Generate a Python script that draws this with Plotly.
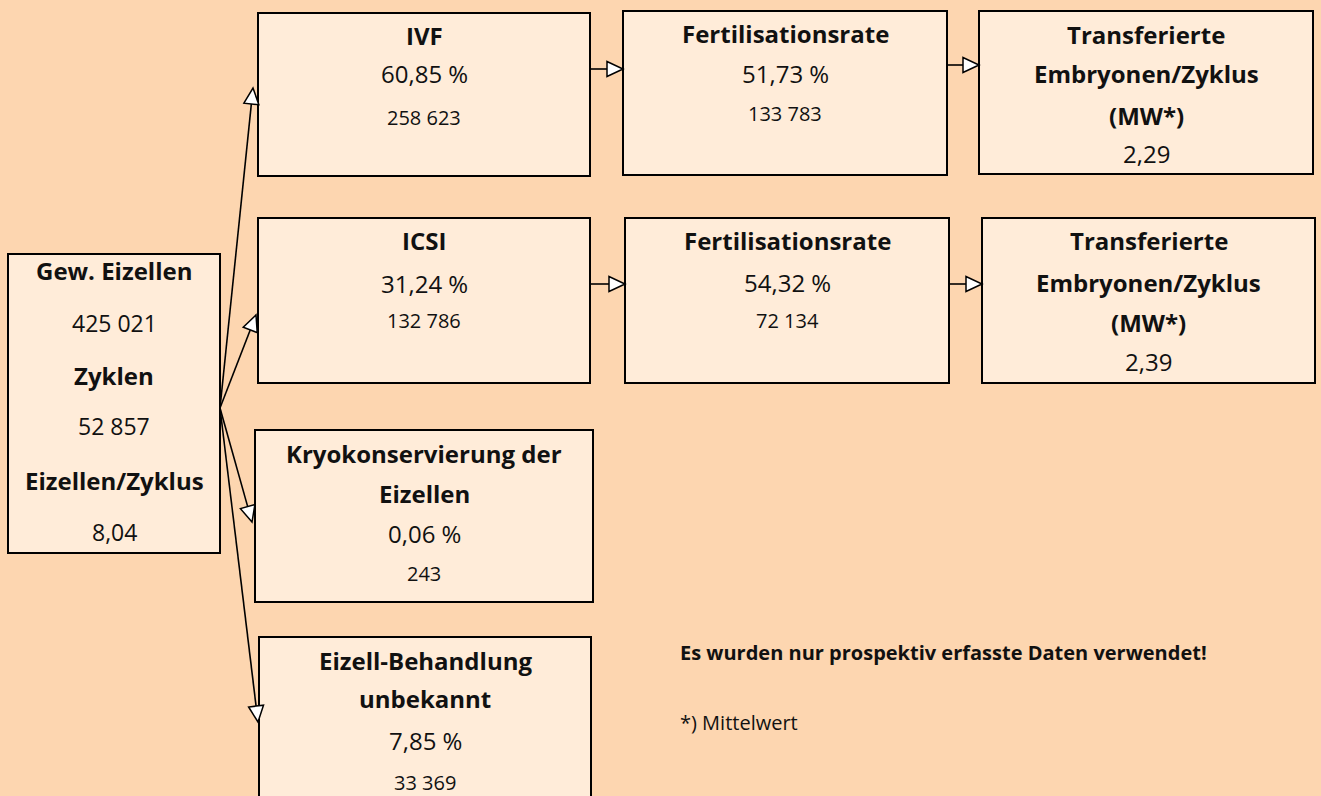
import plotly.graph_objects as go

# ---------------- data ----------------
start_labels = ["Gew. Eizellen", "Zyklen", "Eizellen/Zyklus"]
start_values = ["425 021", "52 857", "8,04"]

branch_titles = ["IVF", "ICSI", "Kryokonservierung der<br>Eizellen", "Eizell-Behandlung<br>unbekannt"]
branch_percent = ["60,85 %", "31,24 %", "0,06 %", "7,85 %"]
branch_counts = ["258 623", "132 786", "243", "33 369"]

fert_title = "Fertilisationsrate"
fert_percent = ["51,73 %", "54,32 %"]
fert_counts = ["133 783", "72 134"]

transfer_title = ["Transferierte", "Embryonen/Zyklus", "(MW*)"]
transfer_values = ["2,29", "2,39"]

note_bold = "Es wurden nur prospektiv erfasste Daten verwendet!"
note_plain = "*) Mittelwert"

# ---------------- layout / style ----------------
W, H = 1321, 796
BG = "#FDD6B0"
BOX = "#FFECD9"
TXT = "#111111"
FONT = "Open Sans"

fig = go.Figure()
shapes = []
annos = []


def box(x0, y0, x1, y1):
    shapes.append(dict(type="rect", x0=x0, y0=y0, x1=x1, y1=y1,
                       xref="x", yref="y", fillcolor=BOX,
                       line=dict(color="black", width=2), layer="below"))


def text(x, y, s, size, bold=False, anchor="center"):
    annos.append(dict(x=x, y=y, xref="x", yref="y", text=(f"<b>{s}</b>" if bold else s),
                      showarrow=False, xanchor=anchor, yanchor="middle",
                      font=dict(family=FONT, size=size, color=TXT)))


def arrow(xs, ys, xt, yt, L=16, Wd=7.5):
    dx, dy = xt - xs, yt - ys
    n = (dx * dx + dy * dy) ** 0.5
    ux, uy = dx / n, dy / n
    bx, by = xt - ux * L, yt - uy * L
    px, py = -uy, ux
    shapes.append(dict(type="line", x0=xs, y0=ys, x1=bx, y1=by, xref="x", yref="y",
                       line=dict(color="black", width=1.6)))
    p = (f"M {xt},{yt} L {bx + px * Wd},{by + py * Wd} "
         f"L {bx - px * Wd},{by - py * Wd} Z")
    shapes.append(dict(type="path", path=p, xref="x", yref="y", fillcolor="white",
                       line=dict(color="black", width=1.5)))


# start box
box(8, 254, 220, 553)
sy = [270, 323, 375, 426, 480, 532]
for i in range(3):
    text(114, sy[2 * i], start_labels[i], 24, bold=True)
    text(114, sy[2 * i + 1], start_values[i], 23)

# branch boxes
bboxes = [(258, 13, 590, 176), (258, 218, 590, 383), (255, 430, 593, 602), (259, 637, 591, 805)]
b_lines = [
    [35, 73, 117],
    [240, 283, 320],
    [(453, 493), 533, 573],
    [(660, 698), 740, 782],
]
for i, (x0, y0, x1, y1) in enumerate(bboxes):
    box(x0, y0, x1, y1)
    cx = (x0 + x1) / 2
    ys = b_lines[i]
    parts = branch_titles[i].split("<br>")
    if isinstance(ys[0], tuple):
        for s, yy in zip(parts, ys[0]):
            text(cx, yy, s, 24, bold=True)
    else:
        text(cx, ys[0], parts[0], 24, bold=True)
    text(cx, ys[1], branch_percent[i], 24)
    text(cx, ys[2], branch_counts[i], 20)

# fertilisation boxes
fboxes = [(623, 11, 947, 175), (625, 218, 949, 383)]
f_lines = [[33, 73, 113], [240, 282, 320]]
for i, (x0, y0, x1, y1) in enumerate(fboxes):
    box(x0, y0, x1, y1)
    cx = (x0 + x1) / 2
    text(cx, f_lines[i][0], fert_title, 24, bold=True)
    text(cx, f_lines[i][1], fert_percent[i], 24)
    text(cx, f_lines[i][2], fert_counts[i], 20)

# transfer boxes
tboxes = [(979, 11, 1313, 174), (982, 218, 1315, 383)]
t_lines = [[34, 73, 115, 153], [240, 282, 322, 361]]
for i, (x0, y0, x1, y1) in enumerate(tboxes):
    box(x0, y0, x1, y1)
    cx = (x0 + x1) / 2
    for s, yy in zip(transfer_title, t_lines[i][:3]):
        text(cx, yy, s, 24, bold=True)
    text(cx, t_lines[i][3], transfer_values[i], 24)

# connectors
jx, jy = 220, 408
arrow(jx, jy, 253, 88)
arrow(jx, jy, 256, 315)
arrow(jx, jy, 252, 522)
arrow(jx, jy, 258, 722)
arrow(590, 69, 623, 69)
arrow(947, 65, 979, 65)
arrow(590, 284, 625, 284)
arrow(949, 284, 982, 284)

# notes
text(678, 652, note_bold, 20, bold=True, anchor="left")
text(678, 722, note_plain, 20, anchor="left")

fig.update_layout(
    width=W, height=H, margin=dict(l=0, r=0, t=0, b=0),
    paper_bgcolor=BG, plot_bgcolor=BG,
    xaxis=dict(range=[0, W], visible=False, fixedrange=True),
    yaxis=dict(range=[H, 0], visible=False, fixedrange=True),
    shapes=shapes, annotations=annos, showlegend=False,
)

fig.write_html("out.html", config={"displayModeBar": False},
               post_script="document.body.style.margin='0';document.body.style.overflow='hidden';")
